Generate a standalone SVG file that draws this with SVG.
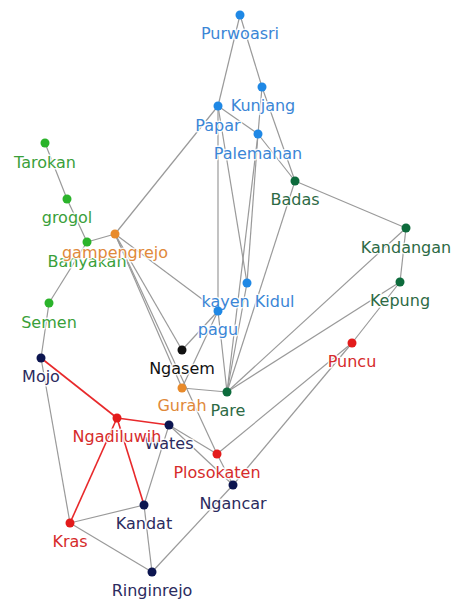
<svg xmlns="http://www.w3.org/2000/svg" width="452" height="600" viewBox="0 0 452 600">
<style>
.e{stroke:#9a9a9a;stroke-width:1.2;fill:none}
.r{stroke:#e8292b;stroke-width:1.6;fill:none}
text{font-family:"DejaVu Sans","Liberation Sans",sans-serif;font-size:16px;text-anchor:middle;stroke:#fff;stroke-width:3;stroke-opacity:0.85;paint-order:stroke;stroke-linejoin:round}
.blue circle{fill:#1f88e5}.blue text{fill:#3b86d6}
.grn circle{fill:#2bb32b}.grn text{fill:#3a9f3a}
.dgr circle{fill:#0d6b3c}.dgr text{fill:#2d6a45}
.org circle{fill:#e88a2a}.org text{fill:#e0893a}
.red circle{fill:#e31b1b}.red text{fill:#d62b2b}
.nav circle{fill:#0c1550}.nav text{fill:#2b2b5e}
.blk circle{fill:#111}.blk text{fill:#111}
</style>
<rect width="452" height="600" fill="#fff"/>
<g id="connectors">
<line class="e" x1="240" y1="15" x2="218" y2="106"/>
<line class="e" x1="240" y1="15" x2="262" y2="87"/>
<line class="e" x1="262" y1="87" x2="258" y2="134"/>
<line class="e" x1="262" y1="87" x2="295" y2="181"/>
<line class="e" x1="218" y1="106" x2="258" y2="134"/>
<line class="e" x1="258" y1="134" x2="295" y2="181"/>
<line class="e" x1="218" y1="106" x2="115" y2="234"/>
<line class="e" x1="218" y1="106" x2="218" y2="311"/>
<line class="e" x1="218" y1="106" x2="247" y2="283"/>
<line class="e" x1="258" y1="134" x2="247" y2="283"/>
<line class="e" x1="258" y1="134" x2="227" y2="392"/>
<line class="e" x1="295" y1="181" x2="227" y2="392"/>
<line class="e" x1="295" y1="181" x2="406" y2="228"/>
<line class="e" x1="406" y1="228" x2="400" y2="282"/>
<line class="e" x1="406" y1="228" x2="227" y2="392"/>
<line class="e" x1="400" y1="282" x2="227" y2="392"/>
<line class="e" x1="400" y1="282" x2="352" y2="343"/>
<line class="e" x1="352" y1="343" x2="217" y2="454"/>
<line class="e" x1="352" y1="343" x2="233" y2="485"/>
<line class="e" x1="247" y1="283" x2="227" y2="392"/>
<line class="e" x1="218" y1="311" x2="227" y2="392"/>
<line class="e" x1="115" y1="234" x2="218" y2="311"/>
<line class="e" x1="115" y1="234" x2="182" y2="350"/>
<line class="e" x1="115" y1="234" x2="182" y2="388"/>
<line class="e" x1="115" y1="234" x2="217" y2="454"/>
<line class="e" x1="182" y1="350" x2="218" y2="311"/>
<line class="e" x1="182" y1="388" x2="218" y2="311"/>
<line class="e" x1="182" y1="388" x2="227" y2="392"/>
<line class="e" x1="45" y1="143" x2="67" y2="199"/>
<line class="e" x1="67" y1="199" x2="87" y2="242"/>
<line class="e" x1="87" y1="242" x2="115" y2="234"/>
<line class="e" x1="87" y1="242" x2="49" y2="303"/>
<line class="e" x1="49" y1="303" x2="41" y2="358"/>
<line class="e" x1="41" y1="358" x2="70" y2="523"/>
<line class="e" x1="169" y1="425" x2="144" y2="505"/>
<line class="e" x1="169" y1="425" x2="217" y2="454"/>
<line class="e" x1="169" y1="425" x2="233" y2="485"/>
<line class="e" x1="217" y1="454" x2="233" y2="485"/>
<line class="e" x1="70" y1="523" x2="144" y2="505"/>
<line class="e" x1="70" y1="523" x2="152" y2="572"/>
<line class="e" x1="144" y1="505" x2="152" y2="572"/>
<line class="e" x1="152" y1="572" x2="233" y2="485"/>
<line class="r" x1="41" y1="358" x2="117" y2="418"/>
<line class="r" x1="117" y1="418" x2="169" y2="425"/>
<line class="r" x1="117" y1="418" x2="70" y2="523"/>
<line class="r" x1="117" y1="418" x2="144" y2="505"/>
</g>
<g id="n-purwoasri" class="blue"><circle cx="240" cy="15" r="4.5"/><text x="240" y="39">Purwoasri</text></g>
<g id="n-kunjang" class="blue"><circle cx="262" cy="87" r="4.5"/><text x="263" y="111">Kunjang</text></g>
<g id="n-papar" class="blue"><circle cx="218" cy="106" r="4.5"/><text x="218" y="131">Papar</text></g>
<g id="n-palemahan" class="blue"><circle cx="258" cy="134" r="4.5"/><text x="258" y="159">Palemahan</text></g>
<g id="n-badas" class="dgr"><circle cx="295" cy="181" r="4.5"/><text x="295" y="205">Badas</text></g>
<g id="n-tarokan" class="grn"><circle cx="45" cy="143" r="4.5"/><text x="45" y="168">Tarokan</text></g>
<g id="n-grogol" class="grn"><circle cx="67" cy="199" r="4.5"/><text x="67" y="223">grogol</text></g>
<g id="n-banyakan" class="grn"><circle cx="87" cy="242" r="4.5"/><text x="87" y="267">Banyakan</text></g>
<g id="n-gampengrejo" class="org"><circle cx="115" cy="234" r="4.5"/><text x="115" y="258">gampengrejo</text></g>
<g id="n-semen" class="grn"><circle cx="49" cy="303" r="4.5"/><text x="49" y="328">Semen</text></g>
<g id="n-kandangan" class="dgr"><circle cx="406" cy="228" r="4.5"/><text x="406" y="253">Kandangan</text></g>
<g id="n-kepung" class="dgr"><circle cx="400" cy="282" r="4.5"/><text x="400" y="306">Kepung</text></g>
<g id="n-kayenkidul" class="blue"><circle cx="247" cy="283" r="4.5"/><text x="248" y="307">kayen Kidul</text></g>
<g id="n-pagu" class="blue"><circle cx="218" cy="311" r="4.5"/><text x="218" y="335">pagu</text></g>
<g id="n-ngasem" class="blk"><circle cx="182" cy="350" r="4.5"/><text x="182" y="374">Ngasem</text></g>
<g id="n-puncu" class="red"><circle cx="352" cy="343" r="4.5"/><text x="352" y="367">Puncu</text></g>
<g id="n-gurah" class="org"><circle cx="182" cy="388" r="4.5"/><text x="182" y="411">Gurah</text></g>
<g id="n-pare" class="dgr"><circle cx="227" cy="392" r="4.5"/><text x="228" y="416">Pare</text></g>
<g id="n-mojo" class="nav"><circle cx="41" cy="358" r="4.5"/><text x="41" y="382">Mojo</text></g>
<g id="n-wates" class="nav"><circle cx="169" cy="425" r="4.5"/><text x="169" y="449">Wates</text></g>
<g id="n-ngadiluwih" class="red"><circle cx="117" cy="418" r="4.5"/><text x="117" y="442">Ngadiluwih</text></g>
<g id="n-kandat" class="nav"><circle cx="144" cy="505" r="4.5"/><text x="144" y="529">Kandat</text></g>
<g id="n-kras" class="red"><circle cx="70" cy="523" r="4.5"/><text x="70" y="547">Kras</text></g>
<g id="n-ringinrejo" class="nav"><circle cx="152" cy="572" r="4.5"/><text x="152" y="596">Ringinrejo</text></g>
<g id="n-plosokaten" class="red"><circle cx="217" cy="454" r="4.5"/><text x="217" y="478">Plosokaten</text></g>
<g id="n-ngancar" class="nav"><circle cx="233" cy="485" r="4.5"/><text x="233" y="509">Ngancar</text></g>
</svg>
